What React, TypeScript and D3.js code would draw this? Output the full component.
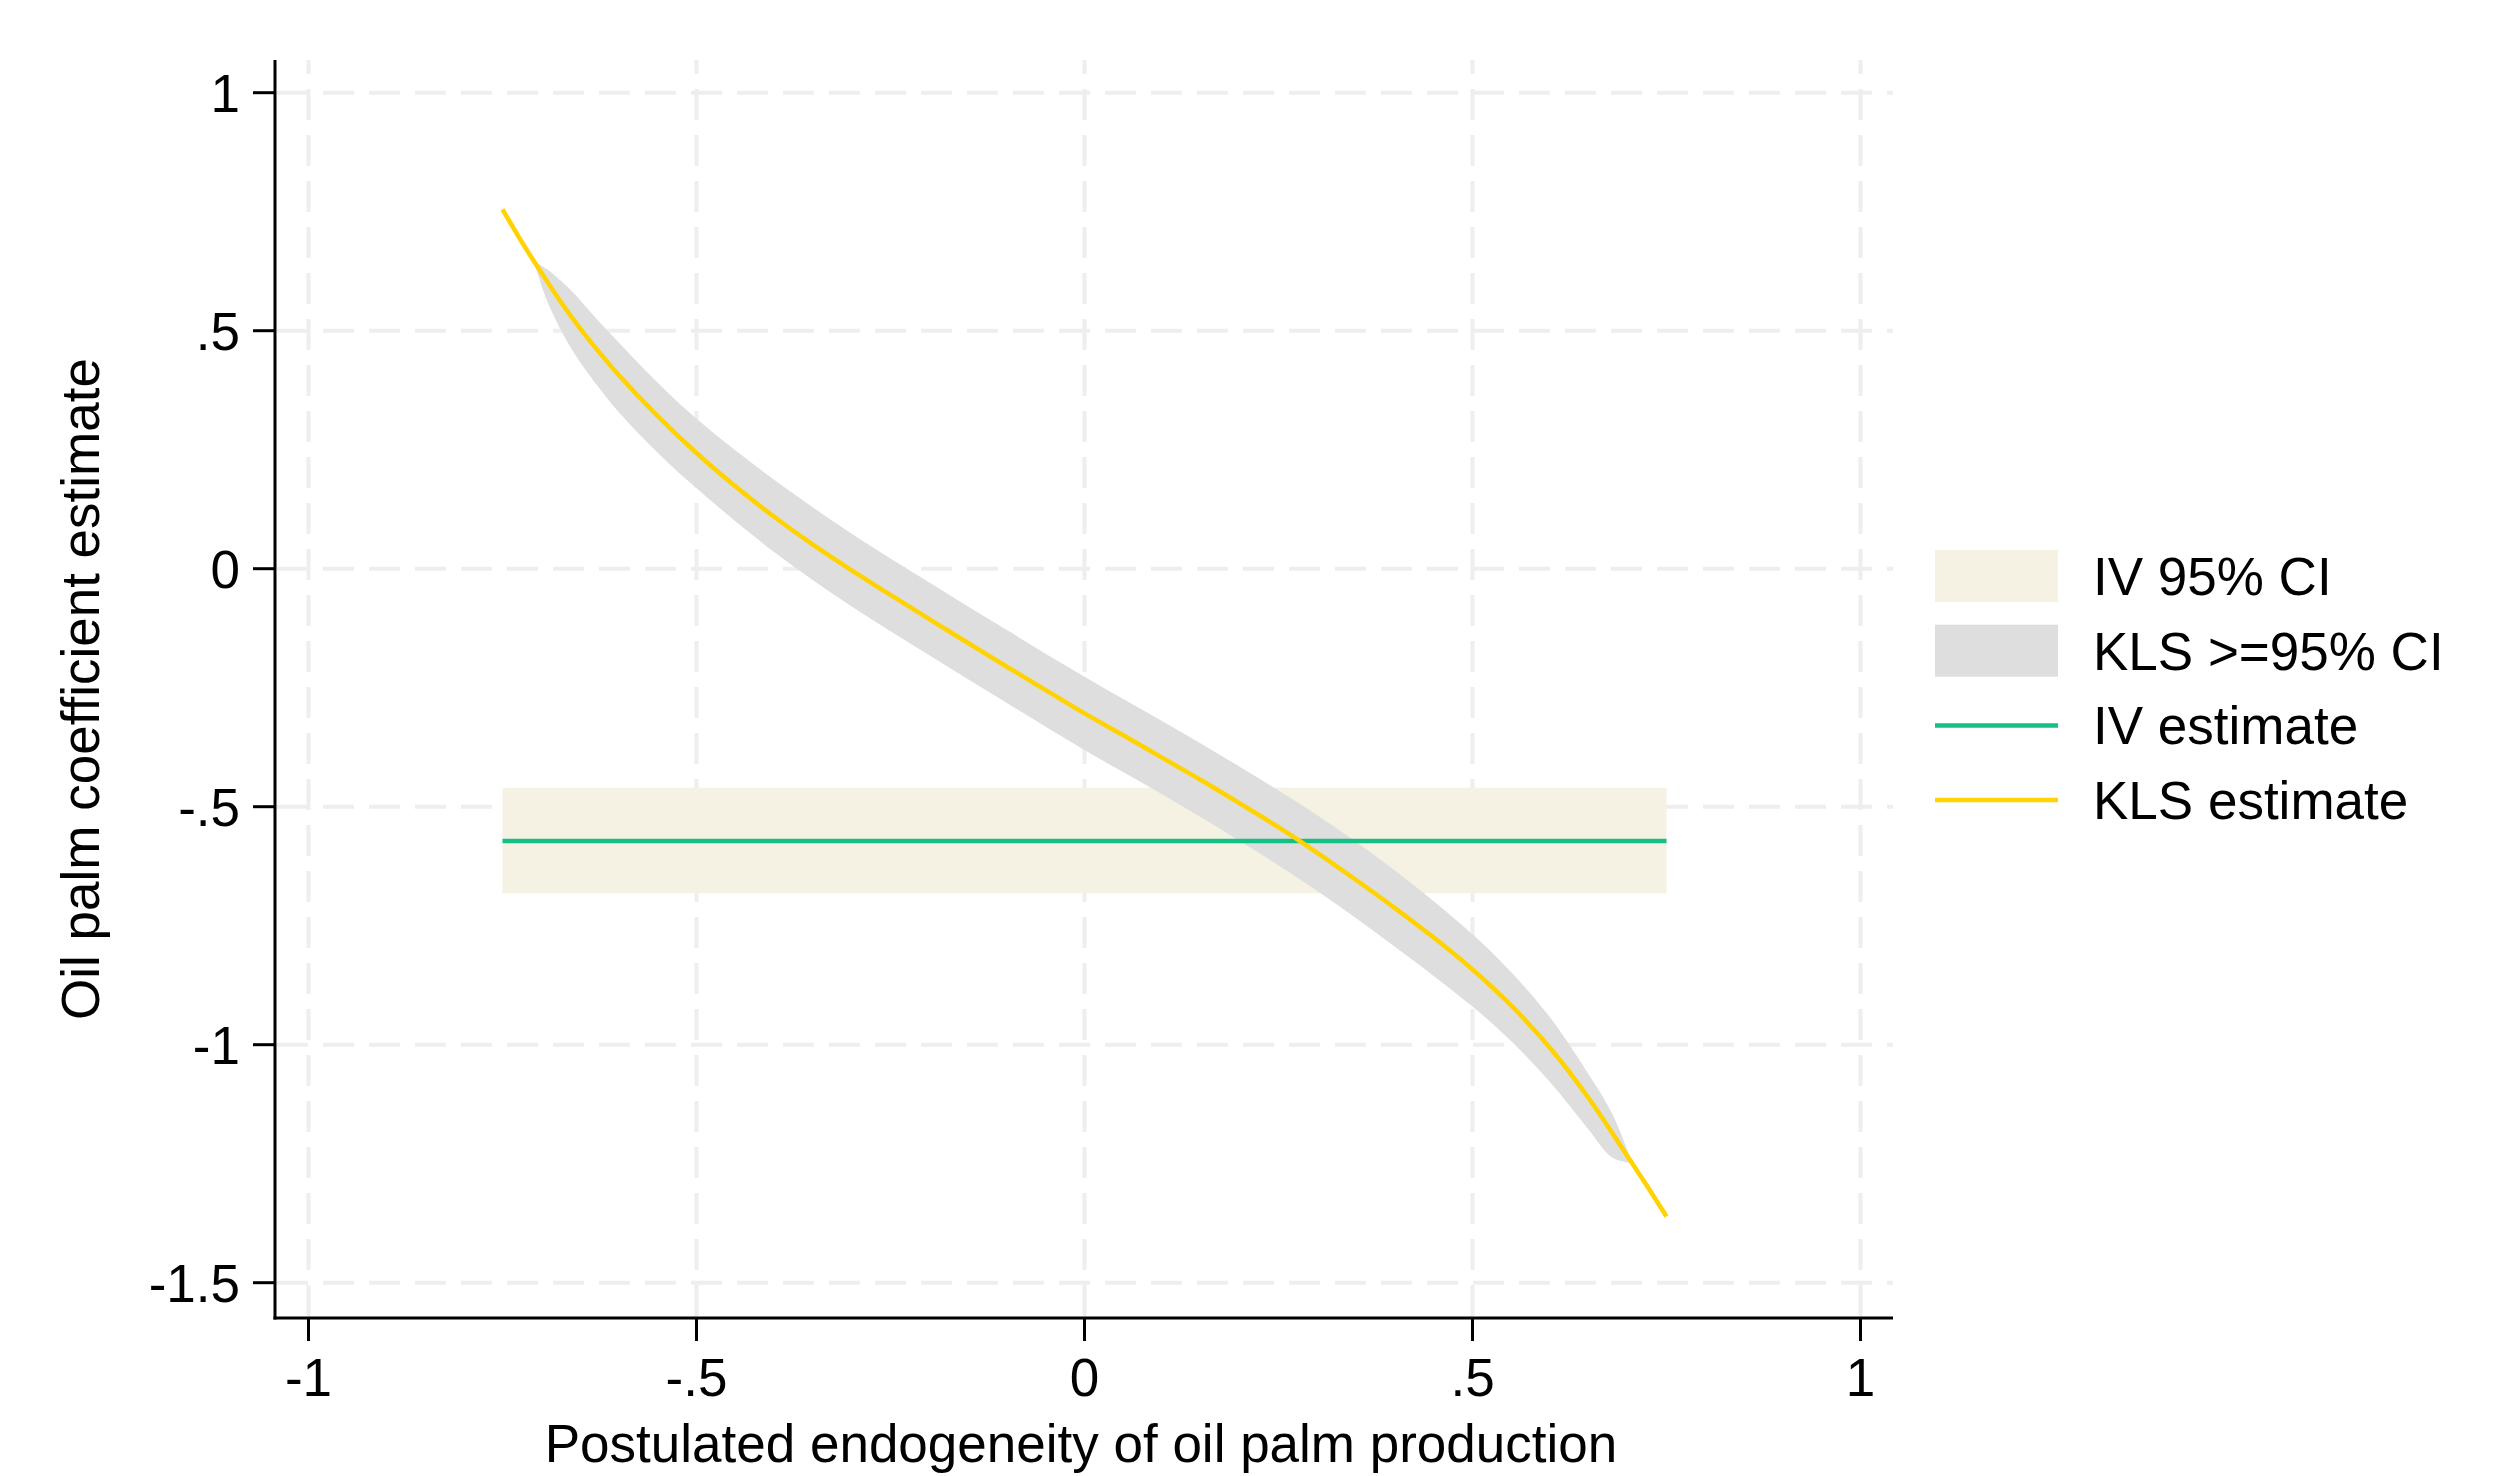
import * as d3 from 'd3'
import React from 'react'

// KLS estimate curve
const klsX = [-0.75, -0.725, -0.7, -0.675, -0.65, -0.625, -0.6, -0.55, -0.5, -0.45, -0.4, -0.35, -0.3, -0.25, -0.2, -0.15, -0.1, -0.05, 0,
    0.05, 0.1, 0.15, 0.2, 0.25, 0.3, 0.35, 0.4, 0.45, 0.5, 0.55, 0.6, 0.65, 0.7, 0.725, 0.75];
const klsEst = [0.755, 0.686, 0.622, 0.561, 0.505, 0.454, 0.4065, 0.3205, 0.243, 0.173, 0.109, 0.0505, -0.0035, -0.055, -0.106, -0.156, -0.206, -0.255, -0.304,
    -0.35, -0.397, -0.444, -0.493, -0.543, -0.597, -0.654, -0.713, -0.775, -0.842, -0.918, -1.007, -1.113, -1.235, -1.297, -1.361];

// KLS >=95% CI band
const bandX = [-0.71, -0.69, -0.66, -0.63, -0.6, -0.55, -0.5, -0.4, -0.3, -0.2, -0.1, 0, 0.1, 0.2, 0.3, 0.4, 0.5, 0.55, 0.6, 0.65, 0.68, 0.706];
const bandUpper = [0.647, 0.626, 0.582, 0.527, 0.4745, 0.3905, 0.315, 0.187, 0.0735, -0.029, -0.129, -0.227, -0.32, -0.416, -0.518, -0.634, -0.768, -0.848, -0.943, -1.063, -1.145, -1.249];
const bandLower = [0.647, 0.553, 0.459, 0.389, 0.3285, 0.2435, 0.169, 0.035, -0.0795, -0.182, -0.282, -0.381, -0.474, -0.572, -0.677, -0.794, -0.92, -0.993, -1.079, -1.179, -1.237, -1.249];

// IV estimate and CI
const ivRange = [-0.75, 0.75];
const ivEstimate = -0.572;
const ivCI = [-0.682, -0.46];

const xTicks = [-1, -0.5, 0, 0.5, 1];
const yTicks = [1, 0.5, 0, -0.5, -1, -1.5];
const legendItems = [
    { label: 'IV 95% CI', kind: 'box', color: '#F5F2E3' },
    { label: 'KLS >=95% CI', kind: 'box', color: '#DEDEDE' },
    { label: 'IV estimate', kind: 'line', color: '#14C085' },
    { label: 'KLS estimate', kind: 'line', color: '#FFD200' },
];

const fmt = (v: number) => {
    if (v === 0) return '0';
    const s = String(Math.abs(v)).replace(/^0\./, '.');
    return (v < 0 ? '-' : '') + s;
};

const App = () => {
    const width = 2505;
    const height = 1476;
    const font = '"Liberation Sans", Arial, sans-serif';
    const fs = 53;

    const xScale = d3.scaleLinear().domain([-1, 1]).range([308.5, 1860.5]);
    const yScale = d3.scaleLinear().domain([1, -1.5]).range([92.7, 1282.7]);

    const plotLeft = 275;
    const plotRight = 1893;
    const plotTop = 60;
    const plotBottom = 1318;

    const klsLine = d3.line<number>()
        .x((d, i) => xScale(klsX[i]))
        .y(d => yScale(d))
        .curve(d3.curveCatmullRom);

    const bandArea = d3.area<number>()
        .x((d, i) => xScale(bandX[i]))
        .y0((d, i) => yScale(bandLower[i]))
        .y1(d => yScale(d))
        .curve(d3.curveCatmullRom);

    const gridColor = '#EEEEEE';

    return (
        <svg width={width} height={height} style={{ position: 'absolute', left: 0, top: 0, background: '#fff' }}
            fontFamily={font}>
            {/* gridlines */}
            {yTicks.map(t => (
                <line key={'gy' + t} x1={plotLeft + 2} x2={plotRight} y1={yScale(t)} y2={yScale(t)}
                    stroke={gridColor} strokeWidth={4} strokeDasharray='31 15' />
            ))}
            {xTicks.map(t => (
                <line key={'gx' + t} x1={xScale(t)} x2={xScale(t)} y1={plotTop} y2={plotBottom - 2}
                    stroke={gridColor} strokeWidth={4} strokeDasharray='31 15' strokeDashoffset={17} />
            ))}

            {/* IV CI */}
            <rect x={xScale(ivRange[0])} width={xScale(ivRange[1]) - xScale(ivRange[0])}
                y={yScale(ivCI[1])} height={yScale(ivCI[0]) - yScale(ivCI[1])} fill='#F5F2E3' />

            {/* KLS CI */}
            <path d={bandArea(bandUpper) || ''} fill='#DEDEDE' />

            {/* IV estimate */}
            <line x1={xScale(ivRange[0])} x2={xScale(ivRange[1])} y1={yScale(ivEstimate)} y2={yScale(ivEstimate)}
                stroke='#14C085' strokeWidth={4.5} />

            {/* KLS estimate */}
            <path d={klsLine(klsEst) || ''} fill='none' stroke='#FFD200' strokeWidth={4.5} />

            {/* axes */}
            <line x1={plotLeft} x2={plotLeft} y1={plotTop} y2={plotBottom + 1.5} stroke='#000' strokeWidth={3} />
            <line x1={plotLeft - 1.5} x2={plotRight} y1={plotBottom} y2={plotBottom} stroke='#000' strokeWidth={3} />
            {yTicks.map(t => (
                <g key={'ty' + t} transform={`translate(0,${yScale(t)})`}>
                    <line x1={plotLeft - 22} x2={plotLeft} stroke='#000' strokeWidth={3} />
                    <text x={240} dy='0.36em' textAnchor='end' fontSize={fs}>{fmt(t)}</text>
                </g>
            ))}
            {xTicks.map(t => (
                <g key={'tx' + t} transform={`translate(${xScale(t)},0)`}>
                    <line y1={plotBottom} y2={plotBottom + 23} stroke='#000' strokeWidth={3} />
                    <text y={1396} textAnchor='middle' fontSize={fs}>{fmt(t)}</text>
                </g>
            ))}

            {/* axis titles */}
            <text x={(plotLeft + plotRight) / 2 - 3} y={1462} textAnchor='middle' fontSize={fs}>
                Postulated endogeneity of oil palm production
            </text>
            <text transform={`translate(99,${(plotTop + plotBottom) / 2}) rotate(-90)`} textAnchor='middle' fontSize={fs}>
                Oil palm coefficient estimate
            </text>

            {/* legend */}
            {legendItems.map((d, i) => {
                const cy = 576 + i * 74.7;
                return (
                    <g key={d.label}>
                        {d.kind === 'box'
                            ? <rect x={1935} y={cy - 26} width={123} height={52} fill={d.color} />
                            : <line x1={1935} x2={2058} y1={cy} y2={cy} stroke={d.color} strokeWidth={4.5} />}
                        <text x={2093} y={cy} dy='0.36em' fontSize={fs}>{d.label}</text>
                    </g>
                );
            })}
        </svg>
    );
};

export default App;
